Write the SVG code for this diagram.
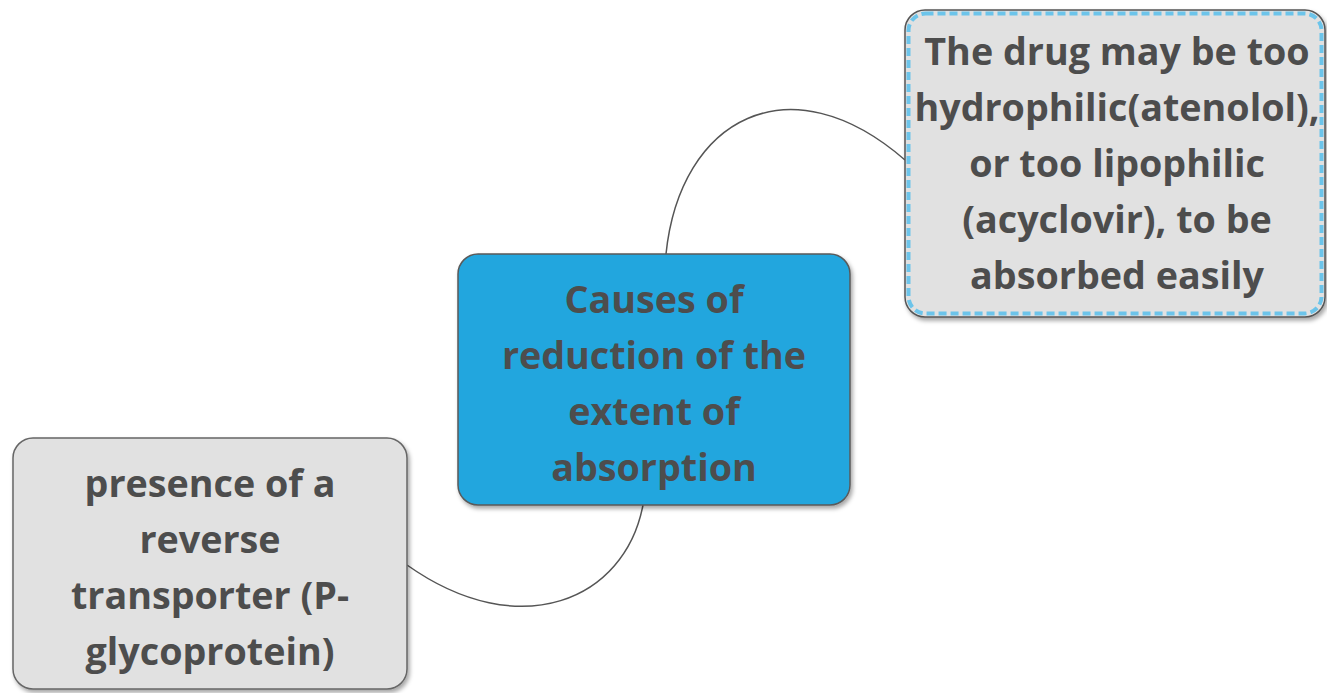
<svg xmlns="http://www.w3.org/2000/svg" width="1327" height="693" viewBox="0 0 1327 693">
<defs>
<filter id="sh" x="-10%" y="-10%" width="120%" height="120%">
<feDropShadow dx="2" dy="3" stdDeviation="2" flood-color="#000" flood-opacity="0.35"/>
</filter>
<style>
.t{font-family:"Open Sans","Noto Sans",sans-serif;font-weight:bold;font-size:37.7px;fill:#4d4d4d;text-anchor:middle;dominant-baseline:central}
.c{fill:none;stroke:#555;stroke-width:1.5}
</style>
</defs>
<rect width="1327" height="693" fill="#fff"/>
<g id="connectors">
<path class="c" d="M666 254 C680 118 790 60 905 160"/>
<path class="c" d="M643 505 C625 600 520 645 407 565"/>
</g>
<g id="center">
<rect x="458" y="254" width="392" height="251" rx="20" fill="#22a6de" stroke="#5a5a5a" stroke-width="1.5" filter="url(#sh)"/>
<text class="t" x="654" y="298">Causes of</text>
<text class="t" x="654" y="354">reduction of the</text>
<text class="t" x="654" y="410">extent of</text>
<text class="t" x="654" y="466">absorption</text>
</g>
<g id="right">
<rect x="905" y="10" width="420" height="307" rx="20" fill="#e1e1e1" stroke="#555" stroke-width="1.5" filter="url(#sh)"/>
<rect x="908.5" y="13.5" width="413" height="300" rx="17" fill="none" stroke="#6cc4ea" stroke-width="4" stroke-dasharray="8 4"/>
<text class="t" x="1117" y="50">The drug may be too</text>
<text class="t" x="1117" y="106">hydrophilic(atenolol),</text>
<text class="t" x="1117" y="162">or too lipophilic</text>
<text class="t" x="1117" y="218">(acyclovir), to be</text>
<text class="t" x="1117" y="274">absorbed easily</text>
</g>
<g id="left">
<rect x="13" y="438" width="394" height="251" rx="20" fill="#e1e1e1" stroke="#666" stroke-width="1.5" filter="url(#sh)"/>
<text class="t" x="210" y="482">presence of a</text>
<text class="t" x="210" y="538">reverse</text>
<text class="t" x="210" y="594">transporter (P-</text>
<text class="t" x="210" y="650">glycoprotein)</text>
</g>
</svg>
